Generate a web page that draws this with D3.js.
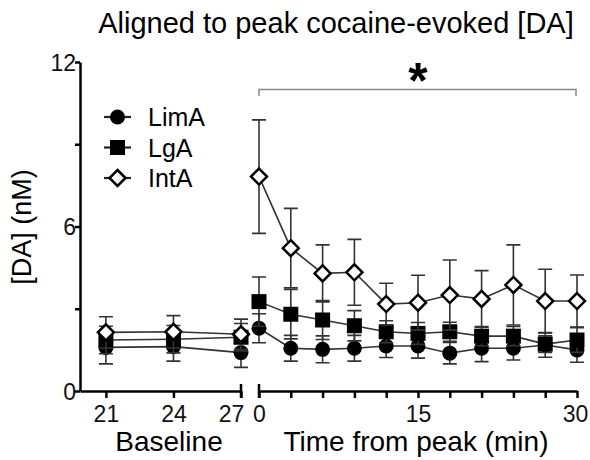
<!DOCTYPE html>
<html>
<head>
<meta charset="utf-8">
<script src="https://cdn.jsdelivr.net/npm/d3@7"></script>
<style>
    body { margin: 0; background: #fff; }
    svg { font-family: "Liberation Sans", Arial, sans-serif; }
    .axis path, .axis line { stroke: #000; stroke-width: 2.5; }
    .axis text { font-size: 23px; fill: #111; }
</style>
</head>
<body>
<svg id="chart" width="590" height="460"></svg>
<script>
'use strict';

// baseline days and minutes from peak
const baseDays = [21, 24, 27];
const peakMins = [0, 3, 6, 9, 12, 15, 18, 21, 24, 27, 30];

const limaBase = [1.59, 1.62, 1.40];
const limaBaseSem = [0.60, 0.53, 0.54];
const lgaBase = [1.86, 1.89, 1.96];
const lgaBaseSem = [0.50, 0.50, 0.50];
const intaBase = [2.14, 2.16, 2.07];
const intaBaseSem = [0.57, 0.59, 0.55];

const limaPeak = [2.29, 1.56, 1.52, 1.56, 1.64, 1.64, 1.38, 1.56, 1.56, 1.68, 1.50];
const limaPeakSem = [0.53, 0.47, 0.49, 0.47, 0.42, 0.44, 0.39, 0.49, 0.43, 0.45, 0.45];
const lgaPeak = [3.26, 2.80, 2.59, 2.38, 2.16, 2.10, 2.16, 2.00, 2.00, 1.71, 1.86];
const lgaPeakSem = [0.90, 0.90, 0.71, 0.55, 0.40, 0.40, 0.35, 0.35, 0.35, 0.30, 0.45];
const intaPeak = [7.82, 5.21, 4.29, 4.33, 3.17, 3.22, 3.50, 3.36, 3.87, 3.28, 3.28];
const intaPeakSem = [2.07, 1.45, 1.04, 1.20, 0.76, 1.00, 1.28, 1.03, 1.46, 1.16, 0.95];

const groups = ['LimA', 'LgA', 'IntA'];
const yTicks = [0, 3, 6, 9, 12];
const yLabels = [0, 6, 12];
const peakLabels = [0, 15, 30];

const series = [
    { name: 'LimA', shape: 'circle', base: limaBase, baseSem: limaBaseSem, peak: limaPeak, peakSem: limaPeakSem },
    { name: 'LgA', shape: 'square', base: lgaBase, baseSem: lgaBaseSem, peak: lgaPeak, peakSem: lgaPeakSem },
    { name: 'IntA', shape: 'diamond', base: intaBase, baseSem: intaBaseSem, peak: intaPeak, peakSem: intaPeakSem }
];

const svg = d3.select('#chart');

const y = d3.scaleLinear().domain([0, 12]).range([391, 62]);
const xBase = d3.scaleLinear().domain([19.85, 27]).range([80, 241]);
const xPeak = d3.scaleLinear().domain([0, 30]).range([259, 577]);

// title
svg.append('text')
    .attr('x', 336)
    .attr('y', 33)
    .attr('text-anchor', 'middle')
    .style('font-size', '29px')
    .text('Aligned to peak cocaine-evoked [DA]');

// y axis
const yAxis = svg.append('g')
    .attr('class', 'axis')
    .attr('transform', 'translate(80,0)')
    .call(d3.axisLeft(y).tickValues(yTicks).tickSize(5).tickSizeOuter(0)
        .tickFormat(d => yLabels.includes(d) ? d : ''));
yAxis.selectAll('text').attr('x', -4).attr('dy', '0.36em');

svg.append('text')
    .attr('transform', 'translate(31,227) rotate(-90)')
    .attr('text-anchor', 'middle')
    .style('font-size', '27px')
    .text('[DA] (nM)');

// x axes
const baseAxis = svg.append('g')
    .attr('class', 'axis')
    .attr('transform', 'translate(0,391)')
    .call(d3.axisBottom(xBase).tickValues(baseDays).tickSize(7).tickSizeOuter(0));
baseAxis.selectAll('text').attr('y', 31).attr('dy', 0)
    .attr('dx', d => d === 27 ? -10 : 0);

const peakAxis = svg.append('g')
    .attr('class', 'axis')
    .attr('transform', 'translate(0,391)')
    .call(d3.axisBottom(xPeak).tickValues(peakMins).tickSize(7).tickSizeOuter(0)
        .tickFormat(d => peakLabels.includes(d) ? d : ''));
peakAxis.selectAll('text').attr('y', 31).attr('dy', 0)
    .attr('dx', d => d === 30 ? -2 : 0);

// end caps at the axis break
[xBase(27), xPeak(0)].forEach(x => {
    svg.append('line')
        .attr('x1', x).attr('x2', x)
        .attr('y1', 384).attr('y2', 398)
        .attr('stroke', '#000')
        .attr('stroke-width', 2.5);
});

svg.append('text')
    .attr('x', 169).attr('y', 451)
    .attr('text-anchor', 'middle')
    .style('font-size', '28px')
    .text('Baseline');

svg.append('text')
    .attr('x', 416).attr('y', 451)
    .attr('text-anchor', 'middle')
    .style('font-size', '28px')
    .text('Time from peak (min)');

// significance bracket
svg.append('path')
    .attr('d', `M${xPeak(0)},96V89.5H${xPeak(30) - 1}V96`)
    .attr('fill', 'none')
    .attr('stroke', '#888')
    .attr('stroke-width', 1.5);

svg.append('text')
    .attr('x', xPeak(15))
    .attr('y', 98)
    .attr('text-anchor', 'middle')
    .style('font-size', '50px')
    .style('font-weight', 'bold')
    .text('*');

function drawMarker(g, shape, cx, cy){
    if (shape === 'circle') {
        g.append('circle')
            .attr('cx', cx).attr('cy', cy).attr('r', 7.5)
            .attr('fill', '#000');
    } else if (shape === 'square') {
        g.append('rect')
            .attr('x', cx - 7.5).attr('y', cy - 7.5)
            .attr('width', 15).attr('height', 15)
            .attr('fill', '#000');
    } else {
        g.append('path')
            .attr('d', `M${cx},${cy - 8}L${cx + 8},${cy}L${cx},${cy + 8}L${cx - 8},${cy}Z`)
            .attr('fill', '#fff')
            .attr('stroke', '#000')
            .attr('stroke-width', 2.5);
    }
}

function drawSegment(g, s, xs, vals, sems, x){
    const pts = xs.map((d, i) => ({ x: x(d), v: vals[i], e: sems[i] }));

    pts.forEach(p => {
        const top = y(p.v + p.e), bot = y(Math.max(0, p.v - p.e));
        g.append('path')
            .attr('d', `M${p.x - 7},${top}H${p.x + 7}M${p.x},${top}V${bot}M${p.x - 7},${bot}H${p.x + 7}`)
            .attr('fill', 'none')
            .attr('stroke', '#333')
            .attr('stroke-width', 1.6);
    });

    g.append('path')
        .datum(pts)
        .attr('d', d3.line().x(p => p.x).y(p => y(p.v)))
        .attr('fill', 'none')
        .attr('stroke', '#333')
        .attr('stroke-width', 1.6);

    pts.forEach(p => drawMarker(g, s.shape, p.x, y(p.v)));
}

series.forEach(s => {
    const g = svg.append('g').attr('class', 'series');
    drawSegment(g, s, baseDays, s.base, s.baseSem, xBase);
    drawSegment(g, s, peakMins, s.peak, s.peakSem, xPeak);
});

// legend
const legend = svg.append('g').attr('transform', 'translate(104,117)');
groups.forEach((name, i) => {
    const s = series[i];
    const row = legend.append('g').attr('transform', `translate(0,${i * 30.5})`);
    row.append('line')
        .attr('x1', 0).attr('x2', 27)
        .attr('stroke', '#222').attr('stroke-width', 2.2);
    drawMarker(row, s.shape, 13.5, 0);
    row.append('text')
        .attr('x', 44).attr('y', 0)
        .attr('dy', '0.36em')
        .style('font-size', '25px')
        .text(name);
});
</script>
</body>
</html>
